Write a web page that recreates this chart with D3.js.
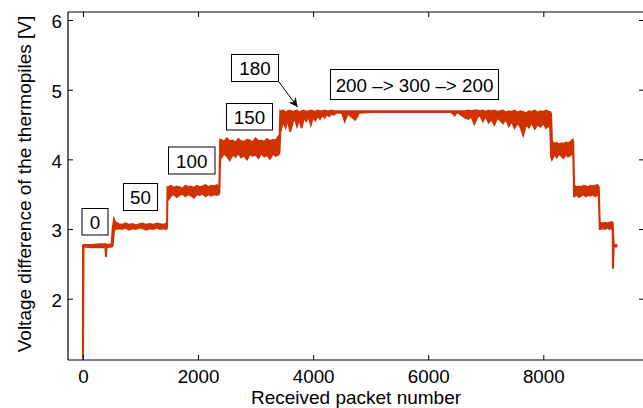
<!DOCTYPE html>
<html>
<head>
<meta charset="utf-8">
<script src="https://cdn.jsdelivr.net/npm/d3@7"></script>
<style>
  html, body { margin: 0; padding: 0; background: #fff; }
  svg { display: block; }
  text { font-family: "Liberation Sans", Arial, Helvetica, sans-serif; fill: #000; }
</style>
</head>
<body>
<svg id="chart" width="643" height="408"></svg>
<script>
// ---- data: packet number, lower and upper envelope of the noisy voltage ----
const packets = [
  // level "0"
  0, 10, 150, 300, 390, 400, 410, 500,
  // step + level "50"
  515, 540, 560, 620, 680, 740, 800, 860, 920, 980, 1040, 1100, 1160, 1220, 1280, 1340, 1400, 1450,
  // step + level "100"
  1460, 1470, 1480, 1530, 1580, 1630, 1680, 1730, 1780, 1830, 1880, 1930, 1980, 2030, 2080, 2130, 2180, 2230, 2280, 2330, 2360, 2370,
  // step + level "150"
  2385, 2400, 2450, 2500, 2550, 2600, 2650, 2700, 2750, 2800, 2850, 2900, 2950, 3000, 3050, 3100, 3150, 3200, 3250, 3300, 3350, 3400, 3415,
  // step + level "180" and "200 -> 300 -> 200"
  3430, 3440, 3480, 3520, 3560, 3600, 3640, 3680, 3720, 3760, 3800, 3840, 3880, 3920, 3960, 4000, 4040, 4080, 4120, 4160, 4200, 4240, 4280, 4320, 4360,
  4400, 4500, 4550, 4600, 4730, 4800, 5000, 5500, 6000, 6400, 6460, 6500, 6640,
  6700, 6750, 6800, 6850, 6900, 6950, 7000, 7050, 7100, 7150, 7200, 7250, 7300, 7350, 7400, 7450, 7500, 7550, 7600, 7650, 7700, 7750, 7800, 7850, 7900, 7950, 8000, 8050, 8100, 8120,
  // back to "150"
  8135, 8150, 8190, 8230, 8270, 8310, 8350, 8390, 8430, 8470, 8510, 8520,
  // back to "100"
  8535, 8540, 8580, 8620, 8660, 8700, 8740, 8780, 8820, 8860, 8900, 8940, 8965,
  // back to "50" and the end
  8980, 8990, 9030, 9070, 9110, 9150, 9190, 9205, 9210, 9225, 9270
];
const lowerV = [
  1.12, 2.75, 2.74, 2.74, 2.74, 2.60, 2.74, 2.75,
  2.76, 2.98, 3.00, 3.01, 3.00, 3.02, 2.99, 3.01, 3.00, 3.02, 3.01, 2.99, 3.01, 3.00, 3.02, 3.00, 3.01, 3.00,
  3.02, 3.48, 3.42, 3.48, 3.50, 3.46, 3.49, 3.51, 3.47, 3.50, 3.48, 3.45, 3.50, 3.49, 3.51, 3.47, 3.50, 3.48, 3.50, 3.49, 3.50, 3.52,
  4.05, 4.02, 4.08, 4.05, 3.99, 4.07, 4.04, 4.09, 4.03, 4.06, 4.00, 4.08, 4.05, 4.07, 4.02, 4.09, 4.04, 4.06, 4.01, 4.08, 4.05, 4.07, 4.10,
  4.40, 4.42, 4.55, 4.46, 4.58, 4.40, 4.52, 4.60, 4.48, 4.57, 4.45, 4.60, 4.55, 4.62, 4.50, 4.61, 4.56, 4.63, 4.58, 4.64, 4.60, 4.65, 4.62, 4.66, 4.64,
  4.67, 4.67, 4.55, 4.66, 4.57, 4.67, 4.68, 4.68, 4.68, 4.68, 4.63, 4.68, 4.60,
  4.58, 4.62, 4.51, 4.60, 4.64, 4.55, 4.62, 4.53, 4.58, 4.50, 4.60, 4.56, 4.52, 4.58, 4.48, 4.55, 4.45, 4.52, 4.47, 4.35, 4.50, 4.46, 4.53, 4.44, 4.50, 4.47, 4.52, 4.45, 4.49, 4.45,
  4.04, 4.00, 4.07, 4.03, 4.08, 4.05, 4.02, 4.07, 4.04, 4.06, 4.08, 4.10,
  3.47, 3.47, 3.49, 3.46, 3.48, 3.50, 3.47, 3.49, 3.48, 3.50, 3.47, 3.49, 3.50,
  3.00, 3.00, 3.01, 3.00, 3.02, 3.00, 3.01, 3.00, 2.43, 2.75, 2.75
];
const upperV = [
  2.76, 2.77, 2.77, 2.78, 2.78, 2.78, 2.77, 2.78,
  3.00, 3.14, 3.10, 3.07, 3.06, 3.08, 3.06, 3.07, 3.05, 3.07, 3.08, 3.06, 3.07, 3.06, 3.08, 3.07, 3.06, 3.08,
  3.06, 3.60, 3.60, 3.62, 3.59, 3.61, 3.60, 3.58, 3.62, 3.60, 3.61, 3.59, 3.62, 3.60, 3.61, 3.63, 3.60, 3.62, 3.61, 3.63, 3.61, 3.58,
  4.28, 4.28, 4.25, 4.30, 4.26, 4.27, 4.24, 4.29, 4.26, 4.25, 4.28, 4.27, 4.24, 4.30, 4.26, 4.27, 4.25, 4.29, 4.26, 4.28, 4.27, 4.33, 4.30,
  4.69, 4.68, 4.70, 4.67, 4.69, 4.70, 4.68, 4.69, 4.70, 4.67, 4.69, 4.70, 4.68, 4.69, 4.70, 4.69, 4.68, 4.70, 4.69, 4.69, 4.70, 4.69, 4.69, 4.70, 4.69,
  4.69, 4.69, 4.69, 4.69, 4.69, 4.69, 4.69, 4.69, 4.69, 4.69, 4.69, 4.69, 4.69,
  4.70, 4.69, 4.70, 4.70, 4.69, 4.70, 4.68, 4.70, 4.69, 4.70, 4.68, 4.69, 4.70, 4.67, 4.69, 4.68, 4.70, 4.67, 4.69, 4.68, 4.66, 4.69, 4.68, 4.70, 4.67, 4.69, 4.68, 4.70, 4.68, 4.68,
  4.65, 4.26, 4.22, 4.24, 4.21, 4.23, 4.22, 4.24, 4.23, 4.25, 4.28, 4.25,
  3.62, 3.62, 3.60, 3.61, 3.60, 3.62, 3.61, 3.60, 3.62, 3.61, 3.62, 3.63, 3.60,
  3.09, 3.09, 3.08, 3.09, 3.08, 3.09, 3.10, 3.09, 3.00, 2.77, 2.77
];
const xTicks = [0, 2000, 4000, 6000, 8000];
const yTicks = [2, 3, 4, 5, 6];
const xTitle = "Received packet number";
const yTitle = "Voltage difference of the thermopiles [V]";
const labelTexts = ["0", "50", "100", "150", "180", "200 –> 300 –> 200"];

(function () {
// ---- layout ----
const mLeft = 68, mRight = 644, mTop = 12, mBottom = 360;
const color = "#d13200";
const fontSize = 18.8;

const svg = d3.select("#chart");
const x = d3.scaleLinear().domain([-260, 9750]).range([mLeft, mRight]);
const y = d3.scaleLinear().domain([1.12, 6.115]).range([mBottom, mTop]);

const n = Math.min(packets.length, lowerV.length, upperV.length);
const data = packets.slice(0, n).map((p, i) => ({ p, lo: lowerV[i], hi: upperV[i] }));

// data band
const area = d3.area().x(d => x(d.p)).y0(d => y(d.lo)).y1(d => y(d.hi));
svg.append("path").datum(data)
  .attr("d", area)
  .attr("fill", color)
  .attr("stroke", color)
  .attr("stroke-width", 2)
  .attr("stroke-linejoin", "miter");

// axes (inward ticks, box)
const tickLen = 5;
const bottomAxis = d3.axisBottom(x).tickValues(xTicks).tickSize(-tickLen).tickPadding(10).tickFormat(d3.format("d"));
const topAxis = d3.axisTop(x).tickValues(xTicks).tickSize(-tickLen).tickFormat("");
const leftAxis = d3.axisLeft(y).tickValues(yTicks).tickSize(-tickLen).tickPadding(6).tickFormat(d3.format("d"));
const rightAxis = d3.axisRight(y).tickValues(yTicks).tickSize(-tickLen).tickFormat("");

function style(g) {
  g.select(".domain").attr("stroke", "#000").attr("stroke-width", 1.2);
  g.selectAll(".tick line").attr("stroke", "#000").attr("stroke-width", 1);
  g.selectAll(".tick text").style("font-size", fontSize + "px").style("font-family", '"Liberation Sans", Arial, sans-serif').attr("fill", "#000");
}
const gB = svg.append("g").attr("transform", `translate(0,${mBottom})`).call(bottomAxis).call(style);
gB.selectAll(".domain").attr("d", `M${mLeft},0H${mRight}`);
const gT = svg.append("g").attr("transform", `translate(0,${mTop})`).call(topAxis).call(style);
gT.selectAll(".domain").attr("d", `M${mLeft},0H${mRight}`);
const gL = svg.append("g").attr("transform", `translate(${mLeft},0)`).call(leftAxis).call(style);
gL.selectAll(".domain").attr("d", `M0,${mTop}V${mBottom}`);
gL.selectAll(".tick text").attr("dy", "0.42em");
const gR = svg.append("g").attr("transform", `translate(${mRight},0)`).call(rightAxis).call(style);
gR.selectAll(".domain").attr("d", `M0,${mTop}V${mBottom}`);

// axis titles
svg.append("text").attr("x", 356).attr("y", 403.5)
  .attr("text-anchor", "middle").style("font-size", "19px").text(xTitle);
svg.append("text").attr("transform", "translate(31,184) rotate(-90)")
  .attr("text-anchor", "middle").style("font-size", "19px").text(yTitle);

// annotation boxes: [x0, y0, x1, y1]
const boxes = [
  [82, 208.5, 108, 235],
  [123.5, 183.5, 157.5, 210.5],
  [168.5, 147, 215, 174],
  [226.5, 103.5, 272.5, 130],
  [231.5, 54.5, 278.5, 81.5],
  [330.5, 69.5, 498.5, 99.5]
];
boxes.forEach((b, i) => {
  svg.append("rect").attr("x", b[0]).attr("y", b[1])
    .attr("width", b[2] - b[0]).attr("height", b[3] - b[1])
    .attr("fill", "#fff").attr("stroke", "#000").attr("stroke-width", 1);
  svg.append("text").attr("x", (b[0] + b[2]) / 2).attr("y", (b[1] + b[3]) / 2 + 7)
    .attr("text-anchor", "middle").style("font-size", fontSize + "px").text(labelTexts[i]);
});

// arrow from "180" box to the plateau
const defs = svg.append("defs");
defs.append("marker").attr("id", "ah").attr("viewBox", "0 0 10 10")
  .attr("refX", 10).attr("refY", 5).attr("markerWidth", 9).attr("markerHeight", 9)
  .attr("markerUnits", "userSpaceOnUse").attr("orient", "auto")
  .append("path").attr("d", "M0,0 L10,5 L0,10 L3,5 Z").attr("fill", "#000");
svg.append("line").attr("x1", 279).attr("y1", 82).attr("x2", 297.5).attr("y2", 107)
  .attr("stroke", "#000").attr("stroke-width", 1).attr("marker-end", "url(#ah)");
})();
</script>
</body>
</html>
